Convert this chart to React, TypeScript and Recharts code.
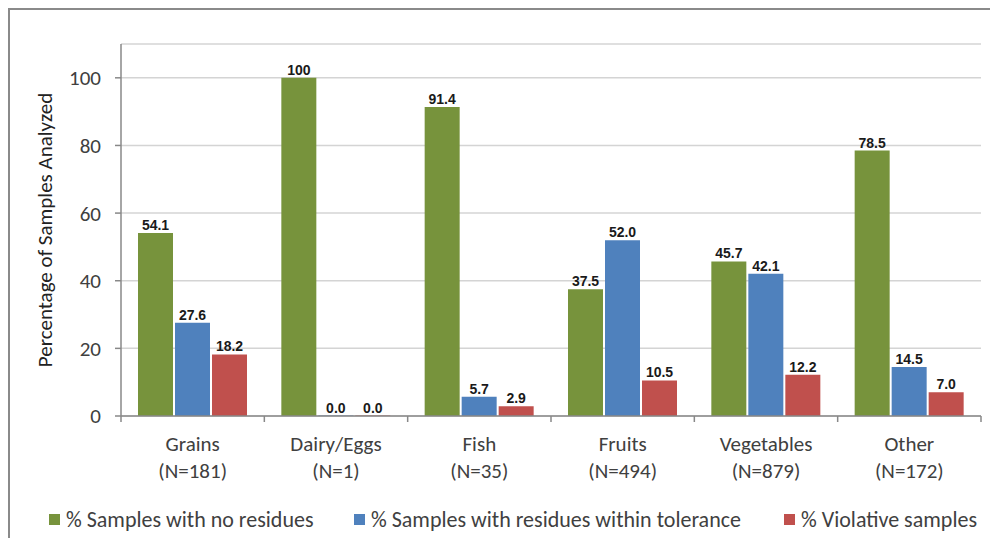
import React from "react";
import { BarChart, Bar, XAxis, YAxis, CartesianGrid, LabelList, Label } from "recharts";

const categories = ["Grains", "Dairy/Eggs", "Fish", "Fruits", "Vegetables", "Other"];
const sampleCounts = ["(N=181)", "(N=1)", "(N=35)", "(N=494)", "(N=879)", "(N=172)"];
const noResidues = [54.1, 100, 91.4, 37.5, 45.7, 78.5];
const withinTolerance = [27.6, 0.0, 5.7, 52.0, 42.1, 14.5];
const violative = [18.2, 0.0, 2.9, 10.5, 12.2, 7.0];
const yTicks = [0, 20, 40, 60, 80, 100];

const seriesNames = [
  "% Samples with no residues",
  "% Samples with residues within tolerance",
  "% Violative samples",
];
const colors = ["#77933C", "#4F81BD", "#C0504D"];

const data = categories.map((c, i) => ({
  name: c,
  n: sampleCounts[i],
  a: noResidues[i],
  b: withinTolerance[i],
  c: violative[i],
}));

const FONT = "Carlito, 'Open Sans', sans-serif";
const LABEL_FONT = "'Liberation Sans Narrow', 'Liberation Sans', Arial, sans-serif";

const fmt = (v: any) => (Number(v) === 100 ? "100" : Number(v).toFixed(1));

const XTick = (props: any) => {
  const { x, y, payload, index } = props;
  const half = 860 / 6 / 2;
  const d = data[payload.index ?? index];
  return (
    <g>
      <line x1={x - half} x2={x - half} y1={y - 8} y2={y - 2} stroke="#888" strokeWidth={1.5} />
      {index === categories.length - 1 && (
        <line x1={x + half} x2={x + half} y1={y - 8} y2={y - 2} stroke="#888" strokeWidth={1.5} />
      )}
      <text x={x} y={y + 27} textAnchor="middle" fill="#404040" fontSize={21} fontFamily={FONT}>
        {payload.value}
      </text>
      <text x={x} y={y + 54} textAnchor="middle" fill="#404040" fontSize={21} fontFamily={FONT}>
        {d ? d.n : ""}
      </text>
    </g>
  );
};

const legendLefts = [39, 344, 774];

export default function App() {
  return (
    <div
      style={{
        position: "relative",
        width: 990,
        height: 530,
        borderLeft: "2px solid #8a8a8a",
        borderTop: "2px solid #8a8a8a",
        background: "#fff",
      }}
    >
      <BarChart
        width={988}
        height={528}
        data={data}
        margin={{ top: 34, right: 17, bottom: 0, left: 0 }}
        barCategoryGap={17}
        barGap={2}
      >
        <CartesianGrid vertical={false} stroke="#d4d4d4" strokeWidth={1.5} />
        <XAxis
          dataKey="name"
          height={122}
          axisLine={{ stroke: "#888", strokeWidth: 1.5 }}
          tickLine={false}
          tick={<XTick />}
          interval={0}
        />
        <YAxis
          width={111}
          domain={[0, 110]}
          ticks={yTicks}
          allowDataOverflow
          axisLine={{ stroke: "#888", strokeWidth: 1.5 }}
          tickLine={{ stroke: "#888", strokeWidth: 1.5 }}
          tickSize={6}
          tickMargin={14}
          tick={{ fill: "#404040", fontSize: 21, fontFamily: FONT }}
        >
          <Label
            content={(p: any) => {
              const vb = p.viewBox || {};
              const cx = 35;
              const cy = (vb.y ?? 34) + (vb.height ?? 372) / 2;
              return (
                <text
                  x={cx}
                  y={cy}
                  transform={`rotate(-90 ${cx} ${cy})`}
                  textAnchor="middle"
                  dominantBaseline="central"
                  fill="#222"
                  fontSize={21}
                  fontFamily={FONT}
                >
                  Percentage of Samples Analyzed
                </text>
              );
            }}
          />
        </YAxis>
        {(["a", "b", "c"] as const).map((k, i) => (
          <Bar
            key={k}
            dataKey={k}
            name={seriesNames[i]}
            fill={colors[i]}
            minPointSize={0.5}
            isAnimationActive={false}
          >
            <LabelList
              dataKey={k}
              position="top"
              offset={3}
              formatter={fmt}
              style={{ fill: "#1a1a1a", fontSize: 14, fontWeight: 700, fontFamily: LABEL_FONT }}
            />
          </Bar>
        ))}
      </BarChart>
      {seriesNames.map((s, i) => (
        <div
          key={s}
          style={{
            position: "absolute",
            left: legendLefts[i],
            top: 496,
            display: "flex",
            alignItems: "center",
            fontFamily: FONT,
            fontSize: 22,
            lineHeight: "27px",
            color: "#404040",
            whiteSpace: "nowrap",
          }}
        >
          <span
            style={{ display: "inline-block", width: 11, height: 11, background: colors[i], marginRight: 6 }}
          />
          {s}
        </div>
      ))}
    </div>
  );
}
